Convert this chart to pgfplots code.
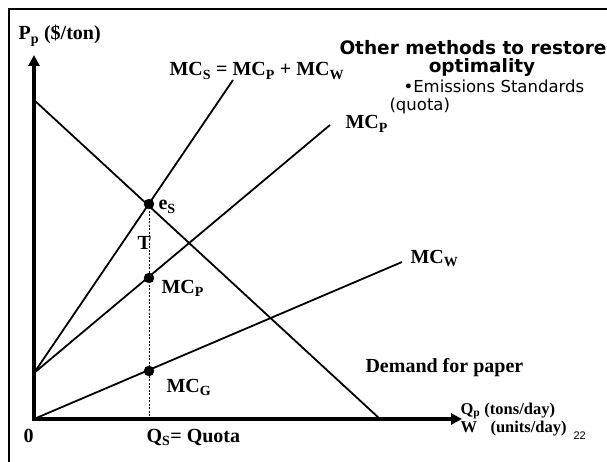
\documentclass[border=0pt]{standalone}
\usepackage{fontspec}
\setmainfont{Liberation Serif}
\newfontfamily\dejavu{DejaVu Sans}
\newfontfamily\arialf{Liberation Sans}
\usepackage{pgfplots}
\pgfplotsset{compat=1.18}
\usetikzlibrary{arrows.meta}
\newcommand{\lab}{\fontsize{20}{23}\selectfont\bfseries}
\newcommand{\sml}{\fontsize{16.5}{19}\selectfont\bfseries}
\begin{document}
\begin{tikzpicture}
\begin{axis}[at={(0,0)}, anchor=south west, scale only axis,
  width=607pt, height=462pt, xmin=0, xmax=607, ymin=0, ymax=462,
  y dir=reverse, axis lines=none, clip=false,
  every node/.style={inner sep=0pt, outer sep=0pt}]
% slide frame
\addplot[black, line width=2.2pt, line join=miter] coordinates {(9,462) (9,9) (607,9)};
% axes
\addplot[black, line width=3.3pt, line join=miter,
  {Triangle[length=11pt,width=11pt]}-{Triangle[length=11pt,width=11pt]}]
  coordinates {(34,55) (34,419) (462,419)};
% demand
\addplot[black, line width=1.8pt] coordinates {(34,100) (380,419)};
% MC_S
\addplot[black, line width=1.8pt] coordinates {(34,373) (233,80)};
% MC_P
\addplot[black, line width=1.8pt] coordinates {(34,373) (330,125)};
% MC_W
\addplot[black, line width=1.8pt] coordinates {(34,419) (402,262)};
% quota line
\addplot[black, line width=0.8pt, dash pattern=on 2pt off 1.5pt] coordinates {(149,204) (149,419)};
% points
\addplot[only marks, mark=*, mark size=5pt, black] coordinates {(149,204) (149,278) (149,371)};
% labels
\node[anchor=base west] at (axis cs:15,40) {\lab P\textsubscript{p} (\$/ton)};
\node[anchor=base west] at (axis cs:166,76) {\lab MC\textsubscript{S} = MC\textsubscript{P} + MC\textsubscript{W}};
\node[anchor=base west] at (axis cs:342,129) {\lab MC\textsubscript{P}};
\node[anchor=base west] at (axis cs:407,263) {\lab MC\textsubscript{W}};
\node[anchor=base west] at (axis cs:155,210) {\lab e\textsubscript{S}};
\node[anchor=base west] at (axis cs:134,250) {\lab T};
\node[anchor=base west] at (axis cs:158,293) {\lab MC\textsubscript{P}};
\node[anchor=base west] at (axis cs:163,392) {\lab MC\textsubscript{G}};
\node[anchor=base west] at (axis cs:20,442) {\lab 0};
\node[anchor=base west] at (axis cs:143,442) {\lab Q\textsubscript{S}= Quota};
\node[anchor=base west] at (axis cs:362,372) {\lab Demand for paper};
\node[anchor=base west] at (axis cs:457,414) {\sml Q\textsubscript{p} (tons/day)};
\node[anchor=base west] at (axis cs:457,432) {\sml W};
\node[anchor=base west] at (axis cs:487,432) {\sml (units/day)};
\node[anchor=base west] at (axis cs:570,439) {\arialf\fontsize{11}{13}\selectfont 22};
\node[anchor=base] at (axis cs:473,55) {\dejavu\bfseries\fontsize{18.5}{21}\selectfont Other methods to restore};
\node[anchor=base] at (axis cs:482,73) {\dejavu\bfseries\fontsize{18.5}{21}\selectfont optimality};
\node[anchor=base west] at (axis cs:400,93) {\dejavu\fontsize{16.5}{19}\selectfont •Emissions Standards};
\node[anchor=base west] at (axis cs:386,111) {\dejavu\fontsize{16.5}{19}\selectfont (quota)};
\end{axis}
\pgfresetboundingbox
\path (0,0) rectangle (607pt,462pt);
\end{tikzpicture}
\end{document}
